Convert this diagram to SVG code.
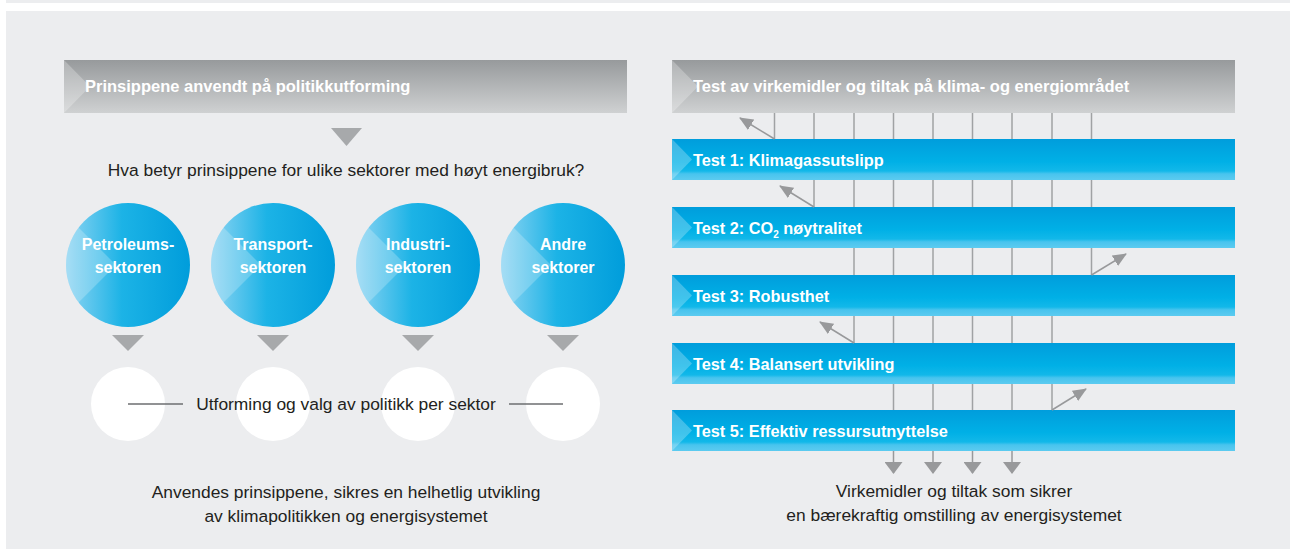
<svg xmlns="http://www.w3.org/2000/svg" xmlns:xlink="http://www.w3.org/1999/xlink" width="1290" height="549" viewBox="0 0 1290 549">
  <style>
    .panel { fill: #ecedef; }
    .title { font-family: "Liberation Sans", Arial, sans-serif; font-weight: bold; font-size: 16.5px; fill: #ffffff; }
    .test { font-size: 16.3px; }
    .body { font-family: "Liberation Sans", Arial, sans-serif; font-size: 17.4px; fill: #231f20; }
    .disc-text { font-family: "Liberation Sans", Arial, sans-serif; font-weight: bold; font-size: 16px; fill: #ffffff; text-anchor: middle; }
    .mid { text-anchor: middle; }
    .tri { fill: #a7a9ab; }
    .rule { stroke: #6d6e70; stroke-width: 1.5; }
    .link { stroke: #a0a2a4; stroke-width: 1.5; fill: none; }
    .diag { stroke: #98999b; stroke-width: 1.5; fill: none; marker-end: url(#head); }
    .drop { stroke: #98999b; stroke-width: 1.5; fill: none; marker-end: url(#dropHead); }
    .shine { fill: #ffffff; fill-opacity: 0.22; }
    .bar-shine { fill: #ffffff; fill-opacity: 0.25; }
  </style>
  <defs>
    <linearGradient id="grayBar" x1="0" y1="0" x2="0" y2="1">
      <stop offset="0" stop-color="#979a9c"/>
      <stop offset="1" stop-color="#cfd1d2"/>
    </linearGradient>
    <linearGradient id="blueBar" x1="0" y1="0" x2="0" y2="1">
      <stop offset="0" stop-color="#009ddc"/>
      <stop offset="0.55" stop-color="#00b0e6"/>
      <stop offset="0.78" stop-color="#12b8e9"/>
      <stop offset="0.85" stop-color="#48c4ee"/>
      <stop offset="1" stop-color="#5ccbf0"/>
    </linearGradient>
    <linearGradient id="disc" x1="0" y1="0" x2="1" y2="0">
      <stop offset="0" stop-color="#8dd4f2"/>
      <stop offset="0.45" stop-color="#1cb3e6"/>
      <stop offset="1" stop-color="#009ddb"/>
    </linearGradient>
    <clipPath id="discClip">
      <circle cx="0" cy="0" r="62"/>
    </clipPath>
    <g id="sectorDisc">
      <circle cx="0" cy="0" r="62" fill="url(#disc)"/>
      <polygon class="shine" clip-path="url(#discClip)" points="-12,0 -92,-80 -92,80"/>
    </g>
    <marker id="head" viewBox="0 0 14 12" refX="13" refY="6" markerWidth="14" markerHeight="12" markerUnits="userSpaceOnUse" orient="auto">
      <path d="M0,0 L14,6 L0,12 Z" fill="#98999b"/>
    </marker>
    <marker id="dropHead" viewBox="0 0 12 18" refX="11" refY="9" markerWidth="12" markerHeight="18" markerUnits="userSpaceOnUse" orient="auto">
      <path d="M0,0 L12,9 L0,18 Z" fill="#98999b"/>
    </marker>
  </defs>

  <!-- page background -->
  <rect x="0" y="0" width="1290" height="549" fill="#ffffff"/>
  <rect class="panel" x="6" y="0" width="1284" height="3"/>
  <rect class="panel" x="6" y="11" width="1284" height="538"/>

  <!-- left column: principles applied to policy -->
  <g id="principles-header">
    <rect x="64" y="60" width="563" height="53" fill="url(#grayBar)"/>
    <polygon class="bar-shine" points="64,60 90,86.5 64,113"/>
    <text class="title" x="85" y="92">Prinsippene anvendt på politikkutforming</text>
  </g>
  <polygon id="principles-pointer" class="tri" points="331,128 362,128 346.5,146"/>

  <g id="sector-question">
    <text class="body mid" x="346" y="176">Hva betyr prinsippene for ulike sektorer med høyt energibruk?</text>
  </g>

  <g id="sector-petroleum" transform="translate(128,265)">
    <use xlink:href="#sectorDisc"/>
    <text class="disc-text" x="0" y="-15">Petroleums-</text>
    <text class="disc-text" x="0" y="8">sektoren</text>
  </g>
  <g id="sector-transport" transform="translate(273,265)">
    <use xlink:href="#sectorDisc"/>
    <text class="disc-text" x="0" y="-15">Transport-</text>
    <text class="disc-text" x="0" y="8">sektoren</text>
  </g>
  <g id="sector-industry" transform="translate(418,265)">
    <use xlink:href="#sectorDisc"/>
    <text class="disc-text" x="0" y="-15">Industri-</text>
    <text class="disc-text" x="0" y="8">sektoren</text>
  </g>
  <g id="sector-other" transform="translate(563,265)">
    <use xlink:href="#sectorDisc"/>
    <text class="disc-text" x="0" y="-15">Andre</text>
    <text class="disc-text" x="0" y="8">sektorer</text>
  </g>

  <g id="sector-pointers">
    <polygon class="tri" points="112,335 144,335 128,351"/>
    <polygon class="tri" points="257,335 289,335 273,351"/>
    <polygon class="tri" points="402,335 434,335 418,351"/>
    <polygon class="tri" points="547,335 579,335 563,351"/>
  </g>

  <g id="policy-per-sector">
    <circle cx="128" cy="404" r="37" fill="#ffffff"/>
    <circle cx="273" cy="404" r="37" fill="#ffffff"/>
    <circle cx="418" cy="404" r="37" fill="#ffffff"/>
    <circle cx="563" cy="404" r="37" fill="#ffffff"/>
    <line class="rule" x1="128" y1="404" x2="183" y2="404"/>
    <line class="rule" x1="509" y1="404" x2="563" y2="404"/>
    <text class="body mid" x="346" y="410">Utforming og valg av politikk per sektor</text>
  </g>

  <g id="principles-outcome">
    <text class="body mid" x="346" y="498">Anvendes prinsippene, sikres en helhetlig utvikling</text>
    <text class="body mid" x="346" y="522">av klimapolitikken og energisystemet</text>
  </g>

  <!-- right column: tests of instruments and measures -->
  <g id="tests-header">
    <rect x="672" y="60" width="563" height="53" fill="url(#grayBar)"/>
    <polygon class="bar-shine" points="672,60 698,86.5 672,113"/>
    <text class="title" x="693" y="92">Test av virkemidler og tiltak på klima- og energiområdet</text>
  </g>

  <g id="test-1">
    <rect x="672" y="139" width="563" height="41" fill="url(#blueBar)"/>
    <polygon class="bar-shine" points="672,139 692,159.5 672,180"/>
    <text class="title test" x="693" y="166">Test 1: Klimagassutslipp</text>
  </g>
  <g id="test-2">
    <rect x="672" y="207" width="563" height="41" fill="url(#blueBar)"/>
    <polygon class="bar-shine" points="672,207 692,227.5 672,248"/>
    <text class="title test" x="693" y="234">Test 2: CO<tspan font-size="10" dy="4">2</tspan><tspan dy="-4"> nøytralitet</tspan></text>
  </g>
  <g id="test-3">
    <rect x="672" y="275" width="563" height="41" fill="url(#blueBar)"/>
    <polygon class="bar-shine" points="672,275 692,295.5 672,316"/>
    <text class="title test" x="693" y="302">Test 3: Robusthet</text>
  </g>
  <g id="test-4">
    <rect x="672" y="343" width="563" height="41" fill="url(#blueBar)"/>
    <polygon class="bar-shine" points="672,343 692,363.5 672,384"/>
    <text class="title test" x="693" y="370">Test 4: Balansert utvikling</text>
  </g>
  <g id="test-5">
    <rect x="672" y="410" width="563" height="41" fill="url(#blueBar)"/>
    <polygon class="bar-shine" points="672,410 692,430.5 672,451"/>
    <text class="title test" x="693" y="437">Test 5: Effektiv ressursutnyttelse</text>
  </g>

  <!-- measures passing through (or exiting) each test -->
  <g id="connectors">
    <!-- header to test 1: nine measures, one rejected -->
    <path class="link" d="M774.5,113V139 M814,113V139 M854,113V139 M893.5,113V139 M933,113V139 M972.5,113V139 M1012,113V139 M1052,113V139 M1091.5,113V139"/>
    <line class="diag" x1="774.5" y1="139" x2="740" y2="118"/>
    <!-- test 1 to test 2 -->
    <path class="link" d="M814,180V207 M854,180V207 M893.5,180V207 M933,180V207 M972.5,180V207 M1012,180V207 M1052,180V207 M1091.5,180V207"/>
    <line class="diag" x1="814" y1="207" x2="780" y2="186"/>
    <!-- test 2 to test 3 -->
    <path class="link" d="M854,248V275 M893.5,248V275 M933,248V275 M972.5,248V275 M1012,248V275 M1052,248V275 M1091.5,248V275"/>
    <line class="diag" x1="1091.5" y1="275" x2="1126" y2="254"/>
    <!-- test 3 to test 4 -->
    <path class="link" d="M854,316V343 M893.5,316V343 M933,316V343 M972.5,316V343 M1012,316V343 M1052,316V343"/>
    <line class="diag" x1="854" y1="343" x2="820" y2="322"/>
    <!-- test 4 to test 5 -->
    <path class="link" d="M893.5,384V410 M933,384V410 M972.5,384V410 M1012,384V410 M1052,384V410"/>
    <line class="diag" x1="1052" y1="410" x2="1086" y2="389"/>
    <!-- accepted measures -->
    <line class="drop" x1="893.5" y1="451" x2="893.5" y2="473"/>
    <line class="drop" x1="933" y1="451" x2="933" y2="473"/>
    <line class="drop" x1="972.5" y1="451" x2="972.5" y2="473"/>
    <line class="drop" x1="1012" y1="451" x2="1012" y2="473"/>
  </g>

  <g id="tests-outcome">
    <text class="body mid" x="954" y="497">Virkemidler og tiltak som sikrer</text>
    <text class="body mid" x="954" y="521">en bærekraftig omstilling av energisystemet</text>
  </g>
</svg>
